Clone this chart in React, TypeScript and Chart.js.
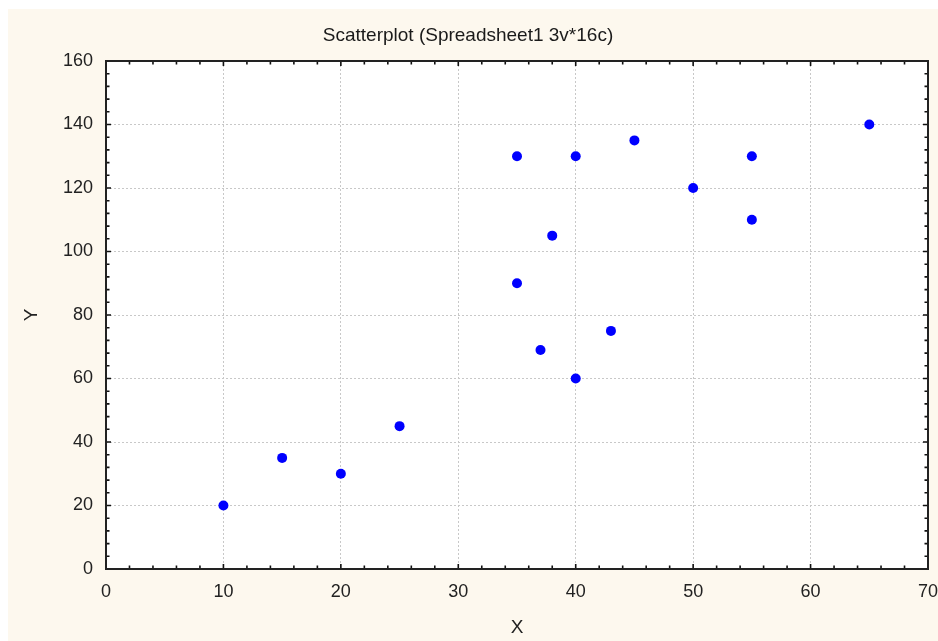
import React, { useEffect, useRef } from "react";
import { Chart, registerables } from "chart.js";

Chart.register(...registerables);

const TITLE = "Scatterplot (Spreadsheet1 3v*16c)";
const X_LABEL = "X";
const Y_LABEL = "Y";
const xValues = [10, 15, 20, 25, 35, 35, 37, 38, 40, 40, 43, 45, 50, 55, 55, 65];
const yValues = [20, 35, 30, 45, 130, 90, 69, 105, 130, 60, 75, 135, 120, 130, 110, 140];
const X_MIN = 0, X_MAX = 70, X_STEP = 10, X_MINOR = 2;
const Y_MIN = 0, Y_MAX = 160, Y_STEP = 20, Y_MINOR = 4;

const FONT = "'Liberation Sans', Arial, sans-serif";

const framePlugin = {
  id: "frame",
  beforeDraw(chart: any) {
    const { ctx, chartArea: a } = chart;
    ctx.save();
    ctx.fillStyle = "#ffffff";
    ctx.fillRect(a.left, a.top, a.right - a.left, a.bottom - a.top);
    ctx.restore();
  },
  afterDraw(chart: any) {
    const { ctx, chartArea: a, scales } = chart;
    const xs = scales.x, ys = scales.y;
    ctx.save();
    ctx.strokeStyle = "#111";
    ctx.lineWidth = 1.6;
    ctx.beginPath();
    for (let v = X_MIN; v <= X_MAX + 1e-9; v += X_MINOR) {
      const px = xs.getPixelForValue(v);
      const len = v % X_STEP === 0 ? 5 : 3.5;
      ctx.moveTo(px, a.bottom);
      ctx.lineTo(px, a.bottom - len);
      ctx.moveTo(px, a.top);
      ctx.lineTo(px, a.top + len);
    }
    for (let v = Y_MIN; v <= Y_MAX + 1e-9; v += Y_MINOR) {
      const py = ys.getPixelForValue(v);
      const len = v % Y_STEP === 0 ? 5 : 3.5;
      ctx.moveTo(a.left, py);
      ctx.lineTo(a.left + len, py);
      ctx.moveTo(a.right, py);
      ctx.lineTo(a.right - len, py);
    }
    ctx.stroke();
    ctx.strokeStyle = "#222";
    ctx.lineWidth = 2;
    ctx.strokeRect(a.left, a.top, a.right - a.left, a.bottom - a.top);
    ctx.restore();
  },
};

export default function App() {
  const ref = useRef<HTMLCanvasElement | null>(null);
  useEffect(() => {
    if (!ref.current) return;
    const data = xValues.map((x, i) => ({ x, y: yValues[i] }));
    const chart = new Chart(ref.current, {
      type: "scatter",
      data: {
        datasets: [
          {
            data,
            backgroundColor: "#0000ff",
            borderWidth: 0,
            pointRadius: 5,
            pointHoverRadius: 5,
          },
        ],
      },
      options: {
        animation: false,
        responsive: true,
        maintainAspectRatio: false,
        layout: { padding: { left: 0, right: 10, top: 0, bottom: 0 } },
        plugins: {
          legend: { display: false },
          tooltip: { enabled: false },
          title: {
            display: true,
            text: TITLE,
            color: "#1a1a1a",
            font: { family: FONT, size: 19, weight: "normal", lineHeight: 1.2 },
            padding: { top: 15, bottom: 14.2 },
          },
        },
        scales: {
          x: {
            type: "linear",
            min: X_MIN,
            max: X_MAX,
            ticks: {
              stepSize: X_STEP,
              color: "#222",
              font: { family: FONT, size: 18, lineHeight: 1.2 },
              padding: 12,
              maxRotation: 0,
            },
            grid: {
              color: "#c8c8c8",
              lineWidth: 1,
              drawTicks: false,
            },
            border: { display: false, dash: [2, 2] },
            title: {
              display: true,
              text: X_LABEL,
              color: "#222",
              font: { family: FONT, size: 19, lineHeight: 1.2 },
              padding: { top: 0, bottom: 2 },
            },
            afterFit(scale: any) {
              scale.height = 72;
              scale.paddingLeft = 0;
              scale.paddingRight = 0;
            },
          },
          y: {
            type: "linear",
            min: Y_MIN,
            max: Y_MAX,
            ticks: {
              stepSize: Y_STEP,
              color: "#222",
              font: { family: FONT, size: 18, lineHeight: 1.2 },
              padding: 13,
            },
            grid: {
              color: "#c8c8c8",
              lineWidth: 1,
              drawTicks: false,
            },
            border: { display: false, dash: [2, 2] },
            title: {
              display: true,
              text: Y_LABEL,
              color: "#222",
              font: { family: FONT, size: 19, lineHeight: 1.2 },
              padding: { top: 12, bottom: 0 },
            },
            afterFit(scale: any) {
              scale.width = 98;
              scale.paddingTop = 0;
              scale.paddingBottom = 0;
            },
          },
        },
      },
      plugins: [framePlugin],
    } as any);
    return () => chart.destroy();
  }, []);

  return (
    <div
      style={{
        position: "fixed",
        left: 8,
        top: 9,
        width: 930,
        height: 632,
        background: "#fdf8ee",
      }}
    >
      <canvas ref={ref} />
    </div>
  );
}
